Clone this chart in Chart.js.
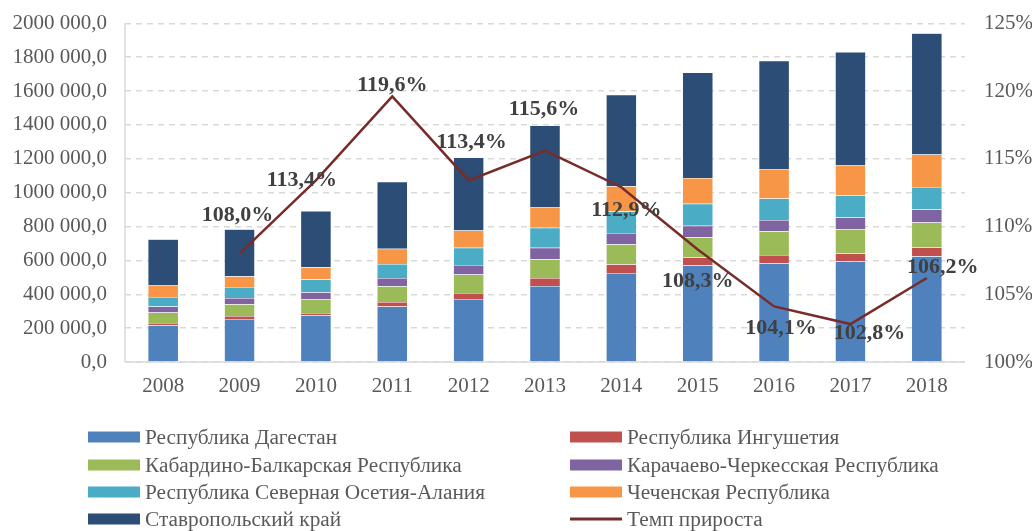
<!DOCTYPE html>
<html>
<head>
<meta charset="utf-8">
<script src="https://cdn.jsdelivr.net/npm/chart.js@4/dist/chart.umd.min.js"></script>
<style>
html,body{margin:0;padding:0;background:#fff;}
#wrap{width:1032px;height:531px;}
</style>
</head>
<body>
<div id="wrap"><canvas id="c" width="1032" height="531"></canvas></div>
<script>
const years = ['2008','2009','2010','2011','2012','2013','2014','2015','2016','2017','2018'];
// values
const dagestan  = [215000,254000,274000,327000,372000,449000,526000,570000,582000,593000,625000];
const ingush    = [15000,18000,16000,28000,36000,47000,51000,49000,50000,49000,53000];
const kbr       = [62000,69000,79000,92000,109000,111000,119000,118000,140000,141000,146000];
const kchr      = [35000,37000,43000,49000,56000,67000,65000,67000,67000,72000,78000];
const rsoa      = [57000,65000,75000,83000,101000,118000,128000,130000,127000,130000,131000];
const chechnya  = [67000,63000,73000,89000,103000,124000,149000,153000,171000,179000,193000];
const stavropol = [274000,278000,331000,396000,431000,481000,540000,623000,642000,666000,715000];
const growth    = [null,108.0,113.4,119.6,113.4,115.6,112.9,108.3,104.1,102.8,106.2];
const leftTicks = [0,200000,400000,600000,800000,1000000,1200000,1400000,1600000,1800000,2000000];
const rightTicks = [100,105,110,115,120,125];

const seriesNames = ['Республика Дагестан','Республика Ингушетия','Кабардино-Балкарская Республика',
  'Карачаево-Черкесская Республика','Республика Северная Осетия-Алания','Чеченская Республика','Ставропольский край'];
const lineName = 'Темп прироста';

const colors = ['#4F81BD','#C0504D','#9BBB59','#8064A2','#4BACC6','#F79646','#2C4D75'];
const lineColor = '#772C2A';
// label offsets (dx, dy) of each growth label relative to its point
const labelOffsets = [[0,0],[-2,-38],[-14,0],[0,-11],[3,-38],[-1,-41],[5,23],[0,32],[7,22],[19,9],[16,-11]];

const FONT = '"Liberation Serif","Times New Roman",serif';

function fmtLeft(v){
  if (v === 0) return '0,0';
  const th = Math.floor(v/1000);
  const rest = String(v % 1000).padStart(3,'0');
  return th + ' ' + rest + ',0';
}

const barData = [dagestan, ingush, kbr, kchr, rsoa, chechnya, stavropol];
const datasets = barData.map((d,i)=>({
  type:'bar', label: seriesNames[i], data: d, backgroundColor: colors[i],
  borderColor: 'rgba(255,255,255,0.35)', borderWidth: 0.5,
  yAxisID:'y', stack:'s', order: 1,
  barPercentage: 0.4, categoryPercentage: 1.0
}));
datasets.push({
  type:'line', label: lineName, data: growth, borderColor: lineColor, backgroundColor: lineColor,
  borderWidth: 2.5, pointRadius: 0, yAxisID:'y1', order: 0, spanGaps: false, tension: 0
});

const axisLinePlugin = {
  id:'axisLine',
  beforeDatasetsDraw(chart){
    const a = chart.chartArea, ctx = chart.ctx;
    ctx.save();
    ctx.strokeStyle = '#d9d9d9'; ctx.lineWidth = 1.5; ctx.setLineDash([]);
    ctx.beginPath(); ctx.moveTo(a.left, a.top); ctx.lineTo(a.left, a.bottom); ctx.stroke();
    ctx.beginPath(); ctx.moveTo(a.left, a.bottom); ctx.lineTo(a.right, a.bottom); ctx.stroke();
    ctx.restore();
  }
};

const labelPlugin = {
  id:'growthLabels',
  afterDatasetsDraw(chart){
    const ctx = chart.ctx;
    const idx = chart.data.datasets.length - 1;
    const meta = chart.getDatasetMeta(idx);
    ctx.save();
    ctx.font = 'bold 22px ' + FONT;
    ctx.fillStyle = '#404040';
    ctx.textAlign = 'center';
    ctx.textBaseline = 'middle';
    meta.data.forEach((pt,i)=>{
      const v = growth[i];
      if (v === null || v === undefined) return;
      const txt = v.toFixed(1).replace('.',',') + '%';
      ctx.fillText(txt, pt.x + labelOffsets[i][0], pt.y + labelOffsets[i][1]);
    });
    ctx.restore();
  }
};

const legendPlugin = {
  id:'gridLegend',
  afterDraw(chart){
    const ctx = chart.ctx;
    const colX = [88, 570];
    const rowY = [437, 465, 492, 519];
    ctx.save();
    ctx.font = '21.3px ' + FONT;
    ctx.textBaseline = 'middle';
    ctx.textAlign = 'left';
    chart.data.datasets.forEach((ds,i)=>{
      const col = i % 2, row = Math.floor(i/2);
      const x = colX[col], y = rowY[row];
      if (ds.type === 'line'){
        ctx.strokeStyle = ds.borderColor; ctx.lineWidth = 3;
        ctx.beginPath(); ctx.moveTo(x, y); ctx.lineTo(x+52, y); ctx.stroke();
      } else {
        ctx.fillStyle = ds.backgroundColor;
        ctx.fillRect(x, y-5.5, 52, 11);
      }
      ctx.fillStyle = '#595959';
      ctx.fillText(ds.label, x+57, y+1);
    });
    ctx.restore();
  }
};

function fixY(width){
  return function(s){ s.width = width; s.paddingTop = 0; s.paddingBottom = 0; };
}

new Chart(document.getElementById('c'), {
  data: { labels: years, datasets },
  options: {
    responsive:false, animation:false,
    layout:{ padding:{ top:23.3, bottom:121, left:0, right:0 } },
    plugins:{ legend:{display:false}, tooltip:{enabled:false} },
    scales:{
      x:{
        stacked:true,
        grid:{ display:false, drawTicks:false },
        border:{ display:false },
        ticks:{ font:{ family:FONT, size:21 }, color:'#595959', padding:12 },
        afterFit(s){ s.height = 48; }
      },
      y:{
        position:'left', stacked:true, min:0, max:2000000,
        afterBuildTicks(s){ s.ticks = leftTicks.map(v=>({value:v})); },
        grid:{ color:'#d9d9d9', lineWidth:1.5, drawTicks:false },
        border:{ display:false, dash:[6,5] },
        ticks:{ font:{ family:FONT, size:21 }, color:'#595959', padding:18, callback:v=>fmtLeft(v) },
        afterFit: fixY(125)
      },
      y1:{
        position:'right', min:100, max:125,
        afterBuildTicks(s){ s.ticks = rightTicks.map(v=>({value:v})); },
        grid:{ display:false, drawTicks:false },
        border:{ display:false },
        ticks:{ font:{ family:FONT, size:21 }, color:'#595959', padding:19, callback:v=>v+'%' },
        afterFit: fixY(67)
      }
    }
  },
  plugins:[axisLinePlugin, labelPlugin, legendPlugin]
});
</script>
</body>
</html>
